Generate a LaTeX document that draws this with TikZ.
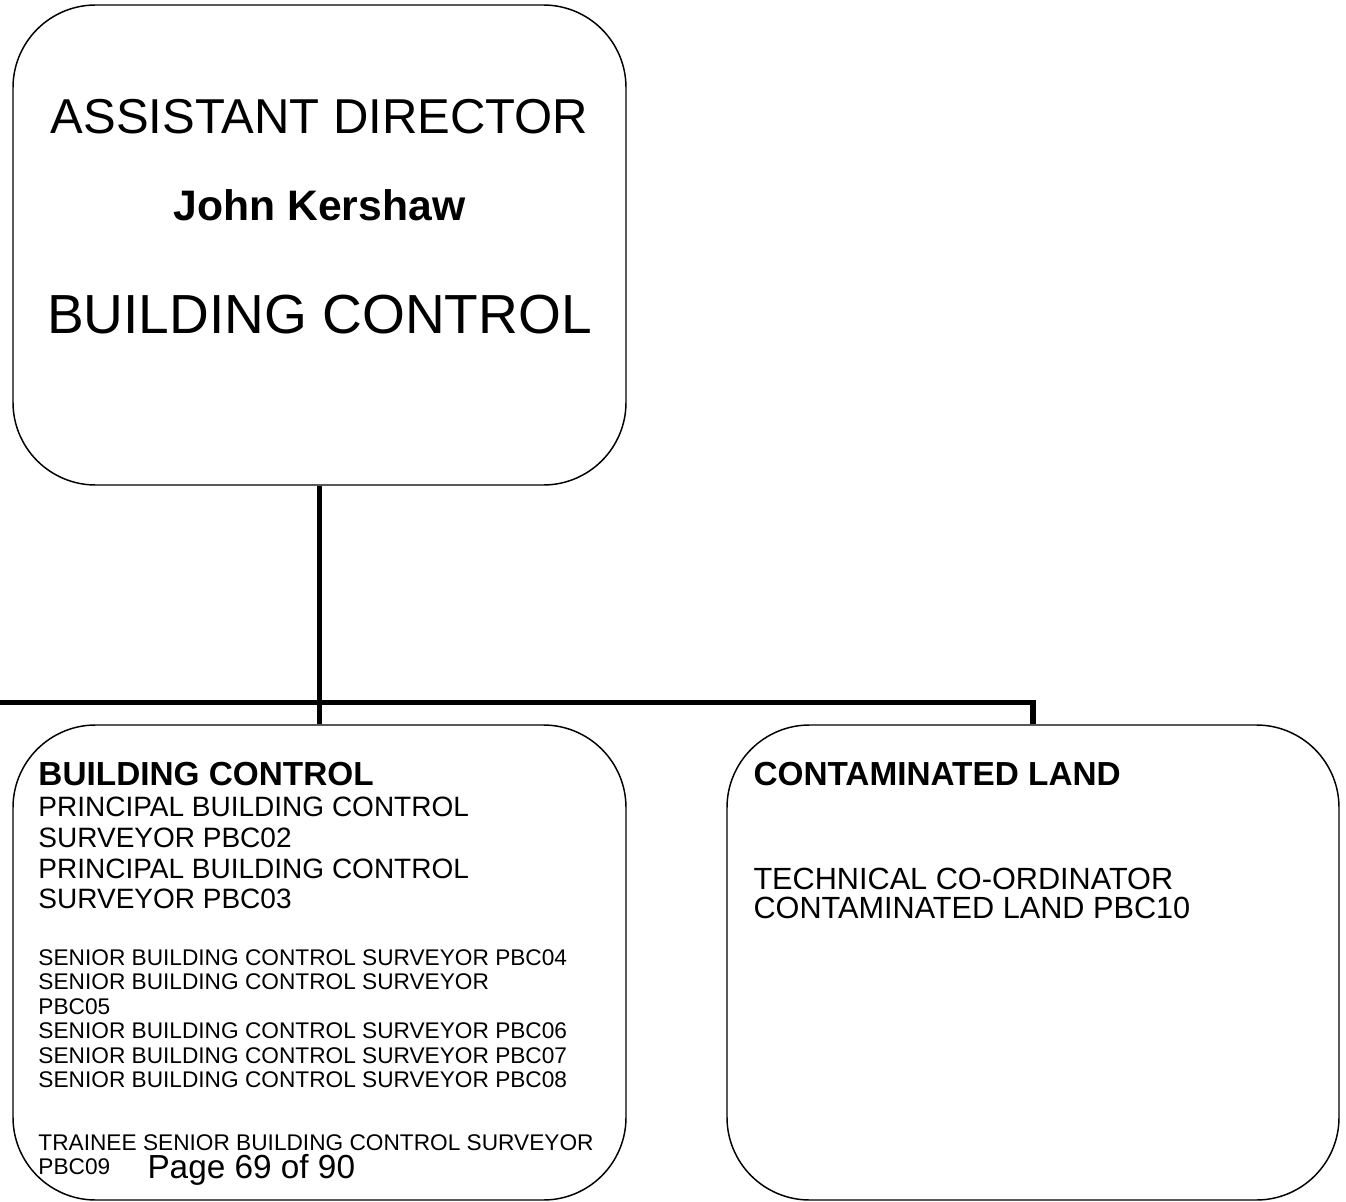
\documentclass[tikz,border=0pt]{standalone}
\usepackage{fontspec}
\setmainfont{Liberation Sans}

\tikzset{every picture/.style={line width=0.75pt}}
\tikzset{
  orgbox/.style={draw, line width=1.1pt, rounded corners=62pt, inner sep=0pt},
  link/.style={line width=4.3pt},
  ln/.style={inner sep=0pt, anchor=base west},
}
\newcommand{\bigtxt}{\fontsize{36.75}{40}\selectfont}
\newcommand{\namtxt}{\fontsize{32}{36}\selectfont\bfseries}
\newcommand{\unittxt}{\fontsize{41.3}{45}\selectfont}
\newcommand{\headtxt}{\fontsize{25}{28}\selectfont\bfseries}
\newcommand{\medtxt}{\fontsize{21}{24}\selectfont}
\newcommand{\cltxt}{\fontsize{23}{26}\selectfont}
\newcommand{\smltxt}{\fontsize{17}{19}\selectfont}

\begin{document}
\begin{tikzpicture}[x=0.75pt,y=0.75pt,yscale=-1,xscale=1]
        \useasboundingbox (0,0) rectangle (1346,1202);

        % boxes
        \node [orgbox, minimum width=459.75pt, minimum height=360pt] (dir) at (319.5,245) {};
        \node [orgbox, minimum width=459.75pt, minimum height=356.25pt] (bc) at (319.5,962.5) {};
        \node [orgbox, minimum width=459pt, minimum height=356.25pt] (cl) at (1033,962.5) {};

        % connectors
        \coordinate (busL) at (0,702.5);
        \draw [link] (dir.south) -- (bc.north);
        \draw [link] (busL) -| (cl.north);

        % top box
        \node [inner sep=0pt, anchor=base] (dirTitle) at (319.5,134) {\bigtxt ASSISTANT DIRECTOR};
        \node [inner sep=0pt, anchor=base] (dirName) at (319.5,221) {\namtxt John Kershaw};
        \node [inner sep=0pt, anchor=base] (dirUnit) at (319.5,333) {\unittxt BUILDING CONTROL};

        % building control box
        \node [ln] (bcHead) at (38,785) {\headtxt BUILDING CONTROL};
        \node [ln] (bcP1) at (38,816) {\medtxt PRINCIPAL BUILDING CONTROL};
        \node [ln] (bcP2) at (38,847) {\medtxt SURVEYOR PBC02};
        \node [ln] (bcP3) at (38,878) {\medtxt PRINCIPAL BUILDING CONTROL};
        \node [ln] (bcP4) at (38,908) {\medtxt SURVEYOR PBC03};
        \node [ln] (bcS1) at (38,965) {\smltxt SENIOR BUILDING CONTROL SURVEYOR PBC04};
        \node [ln] (bcS2) at (38,989) {\smltxt SENIOR BUILDING CONTROL SURVEYOR};
        \node [ln] (bcS3) at (38,1014) {\smltxt PBC05};
        \node [ln] (bcS4) at (38,1038) {\smltxt SENIOR BUILDING CONTROL SURVEYOR PBC06};
        \node [ln] (bcS5) at (38,1063) {\smltxt SENIOR BUILDING CONTROL SURVEYOR PBC07};
        \node [ln] (bcS6) at (38,1087) {\smltxt SENIOR BUILDING CONTROL SURVEYOR PBC08};
        \node [ln] (bcT1) at (38,1150) {\smltxt TRAINEE SENIOR BUILDING CONTROL SURVEYOR};
        \node [ln] (bcT2) at (38,1174) {\smltxt PBC09};
        \node [ln] (page) at (147,1178) {\headtxt\mdseries Page 69 of 90};

        % contaminated land box
        \node [ln] (clHead) at (753,785) {\headtxt CONTAMINATED LAND};
        \node [ln] (clT1) at (753,889) {\cltxt TECHNICAL CO-ORDINATOR};
        \node [ln] (clT2) at (753,918) {\cltxt CONTAMINATED LAND PBC10};
\end{tikzpicture}
\end{document}
